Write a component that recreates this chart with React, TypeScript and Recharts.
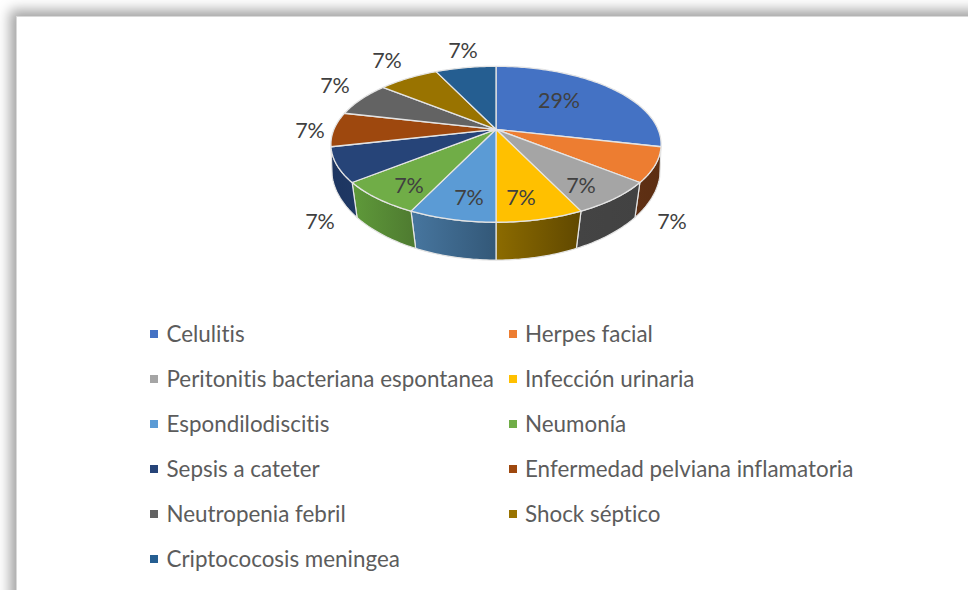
import { Legend, Pie, PieChart } from "recharts";

const categories = [
  "Celulitis",
  "Herpes facial",
  "Peritonitis bacteriana espontanea",
  "Infección urinaria",
  "Espondilodiscitis",
  "Neumonía",
  "Sepsis a cateter",
  "Enfermedad pelviana inflamatoria",
  "Neutropenia febril",
  "Shock séptico",
  "Criptococosis meningea"
];
const cases = [4, 1, 1, 1, 1, 1, 1, 1, 1, 1, 1];

const topColors = ["#4472c4", "#ed7d31", "#a5a5a5", "#ffc000", "#5b9bd5", "#70ad47", "#264478", "#9e480e", "#636363", "#997300", "#255e91"];
const wallFrom = ["#2f528f", "#5f3014", "#444444", "#8c6b00", "#47769f", "#5f9a3a", "#1d3560", "#6b340a", "#444444", "#6b5000", "#1b4468"];
const wallTo = ["#2f528f", "#5c2e12", "#424242", "#604800", "#335878", "#4e7a30", "#1f3864", "#6b340a", "#444444", "#6b5000", "#1b4468"];

// hand placed label offsets from the pie centre, like the manual layout in the original
const labelOffsets = [
  [63, -29], [176, 92], [85, 56], [25, 68], [-27, 68], [-87, 56],
  [-176, 92], [-186, 1], [-161, -44], [-109, -69], [-33, -79]
];

const tableData = categories.map((name, i) => ({ name, value: cases[i], fill: topColors[i] }));

const CX = 496;
const CY = 129.3;
const FONT = "Lato, Carlito, sans-serif";
const EDGE = "#e4e4e4";

// perspective projection of the disc, top face and bottom face
const project = (theta: number, cx: number, cy: number, bottom: boolean) => {
  const u = Math.sin(theta);
  const v = -Math.cos(theta);
  if (bottom) {
    const d = 1 - 0.133 * v;
    return [cx + (163 * u) / d, cy + 27 + (90 * v) / d];
  }
  const d = 1 - 0.192 * v;
  return [cx + (162 * u) / d, cy + (75.1 * v) / d];
};

const arcPoints = (from: number, to: number, cx: number, cy: number, bottom: boolean) => {
  const pts: number[][] = [];
  const steps = Math.max(2, Math.ceil(Math.abs(to - from)));
  for (let s = 0; s <= steps; s++) {
    const deg = from + ((to - from) * s) / steps;
    pts.push(project((deg * Math.PI) / 180, cx, cy, bottom));
  }
  return pts;
};

const toPath = (pts: number[][]) =>
  pts.map((p, i) => `${i ? "L" : "M"}${p[0].toFixed(2)} ${p[1].toFixed(2)}`).join(" ");

function TopFace(props: any) {
  const { cx, cy, startAngle, endAngle, fill } = props;
  const pts = arcPoints(90 - startAngle, 90 - endAngle, cx, cy, false);
  return <path d={`M${cx} ${cy} ${toPath(pts).replace("M", "L")} Z`} fill={fill} stroke={EDGE} strokeWidth={1.3} strokeLinejoin="round" />;
}

function Wall(props: any) {
  const { cx, cy, startAngle, endAngle, index } = props;
  const from = 90 - startAngle;
  const to = 90 - endAngle;
  const mid = (from + to) / 2;
  if (Math.cos((mid * Math.PI) / 180) > -0.05) return null;
  const top = arcPoints(from, to, cx, cy, false);
  const bot = arcPoints(to, from, cx, cy, true);
  const id = `wall-${index}`;
  return (
    <g>
      <defs>
        <linearGradient id={id} x1="0" y1="0" x2="1" y2="0">
          <stop offset="0" stopColor={wallFrom[index]} />
          <stop offset="1" stopColor={wallTo[index]} />
        </linearGradient>
      </defs>
      <path d={`${toPath(top)} ${toPath(bot).replace("M", "L")} Z`} fill={`url(#${id})`} stroke={EDGE} strokeWidth={1.2} strokeLinejoin="round" />
    </g>
  );
}

const renderLabel = (props: any) => {
  const { index, percent } = props;
  const [dx, dy] = labelOffsets[index];
  return (
    <text x={CX + dx} y={CY + dy} textAnchor="middle" dominantBaseline="central" fontFamily={FONT} fontSize={21.5} fill="#404040">
      {`${Math.round(percent * 100)}%`}
    </text>
  );
};

function LegendGrid({ payload }: any) {
  // both pies report their sectors, keep one entry per category
  const items = categories.map((name) => (payload || []).find((e: any) => e.value === name)).filter(Boolean);
  return (
    <div style={{ display: "grid", gridTemplateColumns: "358.5px 358.5px", gridAutoRows: "45px", fontFamily: FONT }}>
      {items.map((entry: any) => (
        <div key={entry.value} style={{ display: "flex", alignItems: "center", whiteSpace: "nowrap" }}>
          <span style={{ width: 8, height: 8, background: entry.color, marginRight: 8.5, flex: "none" }} />
          <span style={{ fontSize: 22.4, color: "#5c5c5c", fontVariantLigatures: "none" }}>{entry.value}</span>
        </div>
      ))}
    </div>
  );
}

export default function App() {
  return (
    <div style={{ position: "absolute", left: 0, top: 0, width: 968, height: 590, overflow: "hidden", background: "#fff" }}>
      <div
        style={{
          position: "absolute",
          left: 16,
          top: 16,
          width: 1100,
          height: 800,
          background: "#fff",
          border: "1px solid #d9d9d9",
          boxShadow: "0 0 12px 6px #a3a3a3"
        }}
      />
      <div style={{ position: "absolute", left: 0, top: 0 }}>
        <PieChart width={968} height={590} margin={{ top: 0, right: 0, bottom: 0, left: 0 }}>
          <Pie
            data={tableData}
            dataKey="value"
            nameKey="name"
            cx={CX}
            cy={CY}
            outerRadius={165}
            startAngle={90}
            endAngle={-270}
            legendType="none"
            isAnimationActive={false}
            shape={Wall}
          />
          <Pie
            data={tableData}
            dataKey="value"
            nameKey="name"
            cx={CX}
            cy={CY}
            outerRadius={165}
            startAngle={90}
            endAngle={-270}
            isAnimationActive={false}
            shape={TopFace}
            label={renderLabel}
            labelLine={false}
          />
          <Legend
            content={<LegendGrid />}
            layout="vertical"
            itemSorter={null}
            wrapperStyle={{ position: "absolute", left: 150, top: 311, width: 720, bottom: "auto" }}
          />
        </PieChart>
      </div>
    </div>
  );
}
